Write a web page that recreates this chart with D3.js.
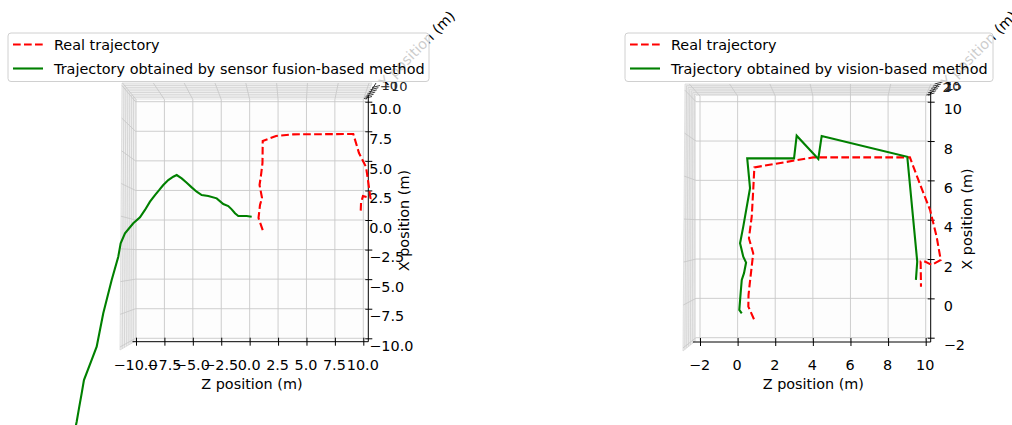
<!DOCTYPE html>
<html>
<head>
<meta charset="utf-8">
<script src="https://cdn.jsdelivr.net/npm/d3@7"></script>
<style>
  body { margin: 0; background: #fff; }
  text { font-family: "DejaVu Sans", sans-serif; }
</style>
</head>
<body>
<div id="chart"></div>
<script>
// [Z, X] pairs
var fusionReal = [[1.15,-0.85],[0.78,0.17],[0.91,1.27],[1.09,1.86],[0.87,2.96],[1.0,3.8],[1.13,4.82],[1.15,6.68],
    [2.32,7.1],[3.81,7.24],[9.12,7.27],[9.62,5.66],[10.24,4.48],[10.41,3.38],[10.63,1.86],[9.97,2.03],[9.8,1.44],[9.77,0.68]];
var fusionEst = [[0.18,0.28],[-0.26,0.34],[-1.0,0.34],[-1.29,0.57],[-1.58,0.9],[-1.88,1.18],[-2.32,1.35],[-2.9,1.83],
    [-3.64,2.03],[-4.22,2.11],[-4.66,2.39],[-5.1,2.76],[-5.54,3.15],[-5.98,3.52],[-6.42,3.8],[-6.72,3.66],[-7.16,3.38],
    [-7.6,2.96],[-7.95,2.54],[-8.33,2.11],[-8.77,1.55],[-9.21,0.85],[-9.65,0.23],[-10.24,-0.28],[-10.97,-1.12],
    [-11.35,-1.97],[-11.56,-3.1],[-12.14,-5.07],[-12.88,-7.89],[-13.46,-10.71],[-13.9,-11.83],[-14.58,-13.53],
    [-14.78,-14.65],[-14.99,-15.78],[-15.22,-17.05],[-15.37,-17.75]];
var visionReal = [[0.87,-1.06],[0.57,-0.42],[0.58,0.17],[0.66,0.88],[0.83,2.29],[0.6,3.06],[0.75,4.15],[0.83,5.51],
    [0.89,6.66],[4.02,7.17],[9.16,7.17],[9.61,6.02],[10.23,4.5],[10.58,3.14],[10.8,1.95],[10.32,1.7],[9.96,1.87],
    [9.73,1.87],[9.75,0.59]];
var visionEst = [[0.22,-0.76],[0.09,-0.59],[0.16,0.26],[0.22,0.94],[0.34,1.28],[0.45,1.82],[0.3,2.12],[0.13,2.8],
    [0.3,3.65],[0.66,5.6],[0.51,7.12],[3.0,7.12],[3.14,8.27],[4.29,7.09],[4.47,8.26],[9.02,7.2],[9.55,1.87],[9.48,0.94]];

var leftTicks = [-10, -7.5, -5, -2.5, 0, 2.5, 5, 7.5, 10];
var rightTicks = [-2, 0, 2, 4, 6, 8, 10];
var legendFusion = ["Real trajectory", "Trajectory obtained by sensor fusion-based method"];
var legendVision = ["Real trajectory", "Trajectory obtained by vision-based method"];

var fs = 14.4;

var svg = d3.select("#chart").append("svg")
    .attr("width", 1012)
    .attr("height", 425);

function drawPanel(opt) {
    var g = svg.append("g");
    var zs = d3.scaleLinear().domain(opt.zDomain).range(opt.zRange);
    var xs = d3.scaleLinear().domain(opt.xDomain).range(opt.xRange);
    var b = opt.box; // inner face & outer corners

    // mapping of inner edge points to the outer pane edges
    function topOuter(x) {
        return b.oL + (x - b.L) * (b.oR - b.oL) / (b.R - b.L);
    }
    function leftOuter(y) {
        return b.oT + (y - b.T) * (b.oB - b.oT) / (b.B - b.T);
    }

    // side panes
    g.append("path")
        .attr("d", "M" + b.oL + "," + b.oT + "L" + b.oR + "," + b.oT + "L" + b.R + "," + b.T + "L" + b.L + "," + b.T +
            "L" + b.L + "," + b.B + "L" + b.oBL + "," + b.oB + "Z")
        .attr("fill", "#efefef")
        .attr("stroke", "#d9d9d9")
        .attr("stroke-width", 0.8);
    g.append("rect")
        .attr("x", b.L).attr("y", b.T)
        .attr("width", b.R - b.L).attr("height", b.B - b.T)
        .attr("fill", "#fdfdfd");

    // nested grid lines of the vertical 3D axis on both side panes
    d3.range(1, 7).forEach(function (i) {
        var t = i / 7;
        var cx = b.oL + (b.L - b.oL) * t, cy = b.oT + (b.T - b.oT) * t;
        var rx = b.oR + (b.R - b.oR) * t;
        var bx = b.oBL + (b.L - b.oBL) * t, by = b.oB + (b.B - b.oB) * t;
        g.append("path")
            .attr("d", "M" + bx + "," + by + "L" + cx + "," + cy + "L" + rx + "," + cy)
            .attr("fill", "none")
            .attr("stroke", "#cfcfcf")
            .attr("stroke-width", 0.8);
    });

    // grid on the face, continued onto the panes
    var gl = g.append("g").attr("stroke", "#c8c8c8").attr("stroke-width", 0.9).attr("fill", "none");
    opt.ticks.z.forEach(function (v) {
        var x = zs(v);
        gl.append("path").attr("d", "M" + topOuter(x) + "," + b.oT + "L" + x + "," + b.T + "L" + x + "," + b.B);
    });
    opt.ticks.x.forEach(function (v) {
        var y = xs(v);
        var ox = b.oBL + (b.oL - b.oBL) * (b.B - y) / (b.B - b.T);
        gl.append("path").attr("d", "M" + ox + "," + leftOuter(y) + "L" + b.L + "," + y + "L" + b.R + "," + y);
    });

    // vertical-axis ticks crowded in the corner
    var corner = g.append("g").attr("stroke", "#222").attr("stroke-width", 0.9);
    d3.range(0, 6).forEach(function (i) {
        corner.append("line")
            .attr("x1", b.R - 2 + i * 1.6).attr("y1", b.T - 1 - i * 2.2)
            .attr("x2", b.R + 6 + i * 1.6).attr("y2", b.T - 3 - i * 2.2);
    });
    corner.append("line")
        .attr("x1", b.R).attr("y1", b.T).attr("x2", b.R + 10).attr("y2", b.oT);
    opt.cornerLabels.forEach(function (s, i) {
        g.append("text")
            .attr("x", b.R + 14 + i * 1.5).attr("y", b.oT + 8 - i * 1.2)
            .attr("font-size", 13)
            .attr("fill", "#222")
            .text(s);
    });

    // axes
    var bottom = g.append("g")
        .attr("transform", "translate(0," + (b.axisY - 4) + ")")
        .call(d3.axisBottom(zs).tickValues(opt.ticks.z).tickFormat(opt.fmt).tickSizeInner(8).tickSizeOuter(0).tickPadding(14));
    bottom.select(".domain").remove();
    bottom.selectAll("text").attr("font-size", fs).attr("fill", "#000").attr("dx", "-1");
    bottom.selectAll("line").attr("stroke", "#000");
    g.append("line")
        .attr("x1", b.L - 3).attr("x2", b.axisX)
        .attr("y1", b.axisY).attr("y2", b.axisY)
        .attr("stroke", "#000").attr("stroke-width", 1);

    var right = g.append("g")
        .attr("transform", "translate(" + (b.axisX - 3) + ",0)")
        .call(d3.axisRight(xs).tickValues(opt.ticks.x).tickFormat(opt.fmt).tickSizeInner(7).tickSizeOuter(0).tickPadding(opt.labelPad));
    right.select(".domain").remove();
    right.selectAll("text").attr("font-size", fs).attr("fill", "#000").attr("dy", "0.85em");
    right.selectAll("line").attr("stroke", "#000");
    g.append("line")
        .attr("x1", b.axisX).attr("x2", b.axisX)
        .attr("y1", b.T - 4).attr("y2", b.axisY)
        .attr("stroke", "#000").attr("stroke-width", 1);

    g.append("text")
        .attr("x", (b.L + b.axisX) / 2).attr("y", b.axisY + 47)
        .attr("text-anchor", "middle")
        .attr("font-size", fs)
        .text("Z position (m)");
    g.append("text")
        .attr("transform", "translate(" + opt.xLabelX + "," + (b.T + b.axisY) / 2 + ") rotate(-90)")
        .attr("text-anchor", "middle")
        .attr("font-size", fs)
        .text("X position (m)");
    g.append("text")
        .attr("transform", "translate(" + opt.yLabel[0] + "," + opt.yLabel[1] + ") rotate(-45)")
        .attr("text-anchor", "middle")
        .attr("dy", "0.35em")
        .attr("font-size", fs)
        .text("Y position (m)");

    // trajectories
    var line = d3.line()
        .x(function (d) { return zs(d[0]); })
        .y(function (d) { return xs(d[1]); });
    g.append("path")
        .datum(opt.real)
        .attr("d", line)
        .attr("fill", "none")
        .attr("stroke", "#ff0000")
        .attr("stroke-width", 2.1)
        .attr("stroke-dasharray", "7.7,3.3");
    g.append("path")
        .datum(opt.est)
        .attr("d", line)
        .attr("fill", "none")
        .attr("stroke", "#008000")
        .attr("stroke-width", 2.1);

    // legend
    var lg = g.append("g").attr("transform", "translate(" + opt.legend.x + "," + opt.legend.y + ")");
    lg.append("rect")
        .attr("width", opt.legend.w).attr("height", 48.5)
        .attr("rx", 3)
        .attr("fill", "#fff").attr("fill-opacity", 0.8)
        .attr("stroke", "#d0d0d0").attr("stroke-width", 1);
    var styles = [{ c: "#ff0000", dash: "7.7,3.3" }, { c: "#008000", dash: null }];
    opt.legendText.forEach(function (s, i) {
        var y = 11.5 + i * 24;
        lg.append("line")
            .attr("x1", 5).attr("x2", 35).attr("y1", y).attr("y2", y)
            .attr("stroke", styles[i].c).attr("stroke-width", 2.1)
            .attr("stroke-dasharray", styles[i].dash);
        lg.append("text")
            .attr("x", 46).attr("y", y).attr("dy", "0.36em")
            .attr("font-size", fs)
            .text(s);
    });
}

drawPanel({
    zDomain: [-10, 10], zRange: [136, 363.3],
    xDomain: [-10, 10], xRange: [338.3, 101.7],
    ticks: { z: leftTicks, x: leftTicks },
    fmt: d3.format(".1f"),
    labelPad: -3,
    box: { L: 135.5, R: 366, T: 99.5, B: 341, oL: 122, oR: 372, oT: 83, oB: 350, oBL: 120, axisX: 368.3, axisY: 341.7 },
    cornerLabels: ["−10", "10"],
    xLabelX: 409,
    yLabel: [417, 49],
    real: fusionReal, est: fusionEst,
    legend: { x: 8, y: 33, w: 421 },
    legendText: legendFusion
});

drawPanel({
    zDomain: [-2, 10], zRange: [700, 925.7],
    xDomain: [-2, 10], xRange: [337.7, 101.7],
    ticks: { z: rightTicks, x: rightTicks },
    fmt: d3.format("d"),
    labelPad: 9,
    box: { L: 696, R: 928.5, T: 96, B: 340.5, oL: 685, oR: 934, oT: 84, oB: 351, oBL: 683, axisX: 930.7, axisY: 342 },
    cornerLabels: ["2", "10", "15"],
    xLabelX: 972,
    yLabel: [979, 49],
    real: visionReal, est: visionEst,
    legend: { x: 625, y: 33, w: 368 },
    legendText: legendVision
});
</script>
</body>
</html>
